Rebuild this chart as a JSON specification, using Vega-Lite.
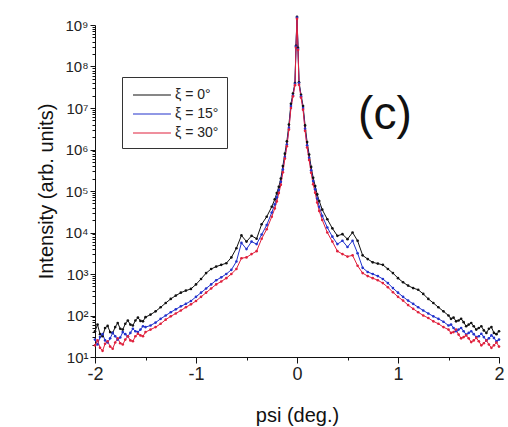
{
  "$schema": "https://vega.github.io/schema/vega-lite/v6.json",
  "autosize": {"type": "none"},
  "width": 404,
  "height": 332,
  "padding": {"left": 95, "top": 25, "right": 9, "bottom": 70},
  "background": "white",
  "config": {
    "view": {"stroke": null},
    "font": "Liberation Sans",
    "axis": {"grid": false, "domainColor": "#111", "tickColor": "#111", "labelColor": "#222", "titleColor": "#111", "labelFont": "Liberation Sans", "titleFont": "Liberation Sans", "titleFontWeight": "normal"}
  },
  "datasets": {
    "curves": [
      {"psi": -2.00, "0°": 41.7, "15°": 26.3, "30°": 19.1},
      {"psi": -1.975, "0°": 60.3, "15°": 20.0, "30°": 25.1},
      {"psi": -1.95, "0°": 35.5, "15°": 30.2, "30°": 16.6},
      {"psi": -1.925, "0°": 31.6, "15°": 35.5, "30°": 14.1},
      {"psi": -1.90, "0°": 50.1, "15°": 25.1, "30°": 20.9},
      {"psi": -1.875, "0°": 56.2, "15°": 22.4, "30°": 24.0},
      {"psi": -1.85, "0°": 39.8, "15°": 28.2, "30°": 17.8},
      {"psi": -1.825, "0°": 38.0, "15°": 38.0, "30°": 15.8},
      {"psi": -1.80, "0°": 52.5, "15°": 31.6, "30°": 22.4},
      {"psi": -1.775, "0°": 66.1, "15°": 26.3, "30°": 28.2},
      {"psi": -1.75, "0°": 47.9, "15°": 29.5, "30°": 21.4},
      {"psi": -1.725, "0°": 45.7, "15°": 39.8, "30°": 20.0},
      {"psi": -1.70, "0°": 63.1, "15°": 35.5, "30°": 26.3},
      {"psi": -1.675, "0°": 75.9, "15°": 31.6, "30°": 31.6},
      {"psi": -1.65, "0°": 60.3, "15°": 38.0, "30°": 25.1},
      {"psi": -1.625, "0°": 57.5, "15°": 47.9, "30°": 24.0},
      {"psi": -1.60, "0°": 75.9, "15°": 41.7, "30°": 31.6},
      {"psi": -1.575, "0°": 89.1, "15°": 39.8, "30°": 36.3},
      {"psi": -1.55, "0°": 74.1, "15°": 45.7, "30°": 33.1},
      {"psi": -1.525, "0°": 72.4, "15°": 55.0, "30°": 31.6},
      {"psi": -1.50, "0°": 91.2, "15°": 52.5, "30°": 39.8},
      {"psi": -1.45, "0°": 105, "15°": 57.5, "30°": 45.7},
      {"psi": -1.40, "0°": 126, "15°": 67.6, "30°": 52.5},
      {"psi": -1.35, "0°": 158, "15°": 83.2, "30°": 63.1},
      {"psi": -1.30, "0°": 200, "15°": 100, "30°": 79.4},
      {"psi": -1.25, "0°": 251, "15°": 120, "30°": 95.5},
      {"psi": -1.20, "0°": 302, "15°": 141, "30°": 112},
      {"psi": -1.15, "0°": 355, "15°": 166, "30°": 132},
      {"psi": -1.10, "0°": 398, "15°": 191, "30°": 158},
      {"psi": -1.05, "0°": 437, "15°": 224, "30°": 186},
      {"psi": -1.00, "0°": 562, "15°": 282, "30°": 224},
      {"psi": -0.95, "0°": 759, "15°": 355, "30°": 282},
      {"psi": -0.90, "0°": 1050, "15°": 447, "30°": 355},
      {"psi": -0.85, "0°": 1320, "15°": 562, "30°": 447},
      {"psi": -0.80, "0°": 1510, "15°": 708, "30°": 562},
      {"psi": -0.75, "0°": 1660, "15°": 832, "30°": 661},
      {"psi": -0.70, "0°": 1820, "15°": 1000, "30°": 794},
      {"psi": -0.65, "0°": 2510, "15°": 1260, "30°": 1000},
      {"psi": -0.60, "0°": 4170, "15°": 2000, "30°": 1320},
      {"psi": -0.55, "0°": 8510, "15°": 5620, "30°": 2400},
      {"psi": -0.50, "0°": 6030, "15°": 3980, "30°": 2510},
      {"psi": -0.45, "0°": 8320, "15°": 6030, "30°": 3020},
      {"psi": -0.40, "0°": 7080, "15°": 5250, "30°": 3550},
      {"psi": -0.35, "0°": 15800, "15°": 8910, "30°": 7080},
      {"psi": -0.30, "0°": 24000, "15°": 15100, "30°": 12000},
      {"psi": -0.25, "0°": 41700, "15°": 30200, "30°": 24000},
      {"psi": -0.22, "0°": 63100, "15°": 47900, "30°": 38000},
      {"psi": -0.20, "0°": 89100, "15°": 70800, "30°": 56200},
      {"psi": -0.18, "0°": 126000, "15°": 105000, "30°": 89100},
      {"psi": -0.16, "0°": 200000, "15°": 166000, "30°": 141000},
      {"psi": -0.14, "0°": 398000, "15°": 331000, "30°": 282000},
      {"psi": -0.12, "0°": 794000, "15°": 661000, "30°": 603000},
      {"psi": -0.10, "0°": 1.58e6, "15°": 1.32e6, "30°": 1.2e6},
      {"psi": -0.08, "0°": 3.98e6, "15°": 3.31e6, "30°": 3.02e6},
      {"psi": -0.06, "0°": 1.26e7, "15°": 1.12e7, "30°": 1.0e7},
      {"psi": -0.04, "0°": 2.24e7, "15°": 2.0e7, "30°": 1.91e7},
      {"psi": -0.02, "0°": 3.98e7, "15°": 3.8e7, "30°": 3.55e7},
      {"psi": -0.01, "0°": 3.16e8, "15°": 3.02e8, "30°": 2.82e8},
      {"psi": 0.00, "0°": 1.58e9, "15°": 1.51e9, "30°": 1.41e9},
      {"psi": 0.01, "0°": 2.82e8, "15°": 2.63e8, "30°": 2.51e8},
      {"psi": 0.02, "0°": 4.17e7, "15°": 3.98e7, "30°": 3.63e7},
      {"psi": 0.04, "0°": 2.09e7, "15°": 1.91e7, "30°": 1.78e7},
      {"psi": 0.06, "0°": 1.12e7, "15°": 1.0e7, "30°": 9.12e6},
      {"psi": 0.08, "0°": 3.8e6, "15°": 3.16e6, "30°": 2.82e6},
      {"psi": 0.10, "0°": 1.51e6, "15°": 1.26e6, "30°": 1.12e6},
      {"psi": 0.12, "0°": 759000, "15°": 631000, "30°": 562000},
      {"psi": 0.14, "0°": 380000, "15°": 316000, "30°": 275000},
      {"psi": 0.16, "0°": 209000, "15°": 174000, "30°": 145000},
      {"psi": 0.18, "0°": 132000, "15°": 110000, "30°": 91200},
      {"psi": 0.20, "0°": 83200, "15°": 66100, "30°": 52500},
      {"psi": 0.22, "0°": 57500, "15°": 41700, "30°": 33100},
      {"psi": 0.25, "0°": 35500, "15°": 25100, "30°": 20000},
      {"psi": 0.30, "0°": 20900, "15°": 13200, "30°": 10000},
      {"psi": 0.35, "0°": 12600, "15°": 7940, "30°": 6030},
      {"psi": 0.40, "0°": 8320, "15°": 5250, "30°": 3550},
      {"psi": 0.45, "0°": 9120, "15°": 6310, "30°": 3020},
      {"psi": 0.50, "0°": 6920, "15°": 4470, "30°": 2630},
      {"psi": 0.55, "0°": 10000, "15°": 6310, "30°": 2820},
      {"psi": 0.60, "0°": 6310, "15°": 3160, "30°": 1580},
      {"psi": 0.65, "0°": 2820, "15°": 1410, "30°": 1050},
      {"psi": 0.70, "0°": 2290, "15°": 1120, "30°": 891},
      {"psi": 0.75, "0°": 1910, "15°": 1000, "30°": 794},
      {"psi": 0.80, "0°": 1780, "15°": 891, "30°": 708},
      {"psi": 0.85, "0°": 1660, "15°": 759, "30°": 603},
      {"psi": 0.90, "0°": 1320, "15°": 603, "30°": 479},
      {"psi": 0.95, "0°": 1050, "15°": 457, "30°": 363},
      {"psi": 1.00, "0°": 794, "15°": 355, "30°": 282},
      {"psi": 1.05, "0°": 631, "15°": 282, "30°": 229},
      {"psi": 1.10, "0°": 525, "15°": 229, "30°": 178},
      {"psi": 1.15, "0°": 457, "15°": 191, "30°": 145},
      {"psi": 1.20, "0°": 417, "15°": 158, "30°": 120},
      {"psi": 1.25, "0°": 331, "15°": 132, "30°": 100},
      {"psi": 1.30, "0°": 251, "15°": 112, "30°": 87.1},
      {"psi": 1.35, "0°": 200, "15°": 95.5, "30°": 72.4},
      {"psi": 1.40, "0°": 158, "15°": 83.2, "30°": 63.1},
      {"psi": 1.45, "0°": 126, "15°": 70.8, "30°": 52.5},
      {"psi": 1.50, "0°": 100, "15°": 57.5, "30°": 45.7},
      {"psi": 1.525, "0°": 83.2, "15°": 60.3, "30°": 38.0},
      {"psi": 1.55, "0°": 89.1, "15°": 50.1, "30°": 39.8},
      {"psi": 1.575, "0°": 72.4, "15°": 41.7, "30°": 45.7},
      {"psi": 1.60, "0°": 75.9, "15°": 45.7, "30°": 34.7},
      {"psi": 1.625, "0°": 83.2, "15°": 50.1, "30°": 28.2},
      {"psi": 1.65, "0°": 69.2, "15°": 41.7, "30°": 30.2},
      {"psi": 1.675, "0°": 55.0, "15°": 34.7, "30°": 33.1},
      {"psi": 1.70, "0°": 60.3, "15°": 38.0, "30°": 28.2},
      {"psi": 1.725, "0°": 66.1, "15°": 41.7, "30°": 22.9},
      {"psi": 1.75, "0°": 55.0, "15°": 35.5, "30°": 25.1},
      {"psi": 1.775, "0°": 45.7, "15°": 30.2, "30°": 28.8},
      {"psi": 1.80, "0°": 50.1, "15°": 31.6, "30°": 24.0},
      {"psi": 1.825, "0°": 55.0, "15°": 36.3, "30°": 19.1},
      {"psi": 1.85, "0°": 43.7, "15°": 30.2, "30°": 21.4},
      {"psi": 1.875, "0°": 38.0, "15°": 25.1, "30°": 25.1},
      {"psi": 1.90, "0°": 47.9, "15°": 28.2, "30°": 20.0},
      {"psi": 1.925, "0°": 52.5, "15°": 33.1, "30°": 16.6},
      {"psi": 1.95, "0°": 38.0, "15°": 28.8, "30°": 19.1},
      {"psi": 1.975, "0°": 35.5, "15°": 24.0, "30°": 22.4},
      {"psi": 2.00, "0°": 41.7, "15°": 26.3, "30°": 17.8}
    ]
  },
  "layer": [
    {
      "data": {"name": "curves"},
      "transform": [{"fold": ["0°", "15°", "30°"], "as": ["xi", "intensity"]}],
      "mark": {"type": "line", "strokeWidth": 1, "point": {"filled": true, "size": 7}},
      "encoding": {
        "x": {
          "field": "psi", "type": "quantitative",
          "scale": {"domain": [-2, 2], "nice": false},
          "axis": {
            "title": "psi (deg.)", "titleFontSize": 20, "titlePadding": 22,
            "values": [-2, -1.5, -1, -0.5, 0, 0.5, 1, 1.5, 2],
            "labelExpr": "datum.value % 1 == 0 ? '' + datum.value : ''",
            "labelFontSize": 18, "labelPadding": 2,
            "tickSize": {"condition": {"test": "datum.value % 1 == 0", "value": 6}, "value": 3},
            "labelFlush": false
          }
        },
        "y": {
          "field": "intensity", "type": "quantitative",
          "scale": {"type": "log", "domain": [10, 1e9], "nice": false},
          "axis": {
            "title": "Intensity (arb. units)", "titleFontSize": 20, "titlePadding": 8,
            "values": [10,20,30,40,50,60,70,80,90,100,200,300,400,500,600,700,800,900,1000,2000,3000,4000,5000,6000,7000,8000,9000,1e4,2e4,3e4,4e4,5e4,6e4,7e4,8e4,9e4,1e5,2e5,3e5,4e5,5e5,6e5,7e5,8e5,9e5,1e6,2e6,3e6,4e6,5e6,6e6,7e6,8e6,9e6,1e7,2e7,3e7,4e7,5e7,6e7,7e7,8e7,9e7,1e8,2e8,3e8,4e8,5e8,6e8,7e8,8e8,9e8,1e9],
            "labelExpr": "abs(log(datum.value)/LN10 - round(log(datum.value)/LN10)) < 0.01 ? '10' + ['⁰','¹','²','³','⁴','⁵','⁶','⁷','⁸','⁹'][round(log(datum.value)/LN10)] : ''",
            "labelFontSize": 15, "labelPadding": 2,
            "tickSize": {"condition": {"test": "abs(log(datum.value)/LN10 - round(log(datum.value)/LN10)) < 0.01", "value": 5}, "value": 3},
            "labelFlush": false
          }
        },
        "color": {
          "field": "xi", "type": "nominal",
          "scale": {"domain": ["0°", "15°", "30°"], "range": ["#111111", "#2233cc", "#e0203c"]},
          "legend": {
            "title": null, "orient": "none", "legendX": 27, "legendY": 52,
            "strokeColor": "#333", "padding": 8, "symbolType": "M-0.78,0H3.44", "symbolSize": 324,
            "symbolStrokeWidth": 1.2, "labelFontSize": 14, "rowPadding": 2, "labelOffset": 25, "labelColor": "#222",
            "labelExpr": "'ξ = ' + datum.label"
          }
        }
      }
    },
    {
      "data": {"values": [{"psi": 0.87, "intensity": 6.8e6, "label": "(c)"}]},
      "mark": {"type": "text", "fontSize": 46, "font": "Liberation Sans", "align": "center", "baseline": "middle", "color": "#111"},
      "encoding": {
        "x": {"field": "psi", "type": "quantitative"},
        "y": {"field": "intensity", "type": "quantitative"},
        "text": {"field": "label"}
      }
    }
  ]
}
